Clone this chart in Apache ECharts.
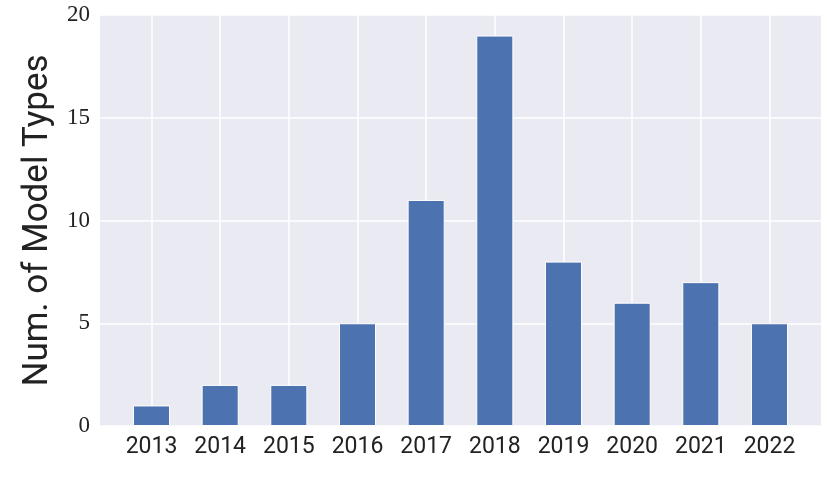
<!DOCTYPE html>
<html><head><meta charset="utf-8">
<script src="https://cdn.jsdelivr.net/npm/echarts@6/dist/echarts.min.js"></script>
<style>html,body{margin:0;padding:0;background:#fff}#c{width:830px;height:485px}</style>
</head><body><div id="c"></div>
<script>
const years = ['2013','2014','2015','2016','2017','2018','2019','2020','2021','2022'];
const counts = [1, 2, 2, 5, 11, 19, 8, 6, 7, 5];
const yTicks = [0, 5, 10, 15, 20];
const yTitle = 'Num. of Model Types';

(function () {
const chart = echarts.init(document.getElementById('c'), null, {renderer: 'canvas'});
const gTop = 15, gH = 411, gLeft = 100, gW = 721;
const step = gW / (years.length + 0.5);
chart.setOption({
  animation: false,
  grid: [
    {left: gLeft, top: gTop, width: gW, height: gH, show: true, backgroundColor: '#EAEAF2', borderWidth: 0},
    {left: gLeft + step * 0.25, top: gTop, width: step * years.length, height: gH}
  ],
  xAxis: [
    {gridIndex: 0, type: 'value', min: 0, max: 1, show: false},
    {gridIndex: 1, type: 'category', data: years,
     axisLine: {show: false}, axisTick: {show: false, alignWithLabel: true, interval: 0},
     axisLabel: {color: '#222', fontFamily: 'Roboto', fontSize: 23, margin: 10, interval: 0},
     splitLine: {show: true, alignWithLabel: true, interval: 0, lineStyle: {color: '#fff', width: 1.5}}}
  ],
  yAxis: [
    {gridIndex: 0, type: 'value', min: yTicks[0], max: yTicks[yTicks.length-1], interval: 5,
     axisLine: {show: false}, axisTick: {show: false},
     axisLabel: {color: '#222', fontFamily: 'Liberation Serif', fontSize: 23, margin: 10},
     splitLine: {show: true, lineStyle: {color: '#fff', width: 1.5}},
     name: yTitle, nameLocation: 'middle', nameGap: 42,
     nameTextStyle: {color: '#222', fontFamily: 'Roboto', fontSize: 35}},
    {gridIndex: 1, type: 'value', min: yTicks[0], max: yTicks[yTicks.length-1], show: false, splitLine: {show: false}}
  ],
  series: [{
    type: 'bar', xAxisIndex: 1, yAxisIndex: 1, data: counts, barWidth: '54%',
    itemStyle: {color: '#4C72B0', borderColor: '#fff', borderWidth: 1}
  }]
});
})();
</script></body></html>
